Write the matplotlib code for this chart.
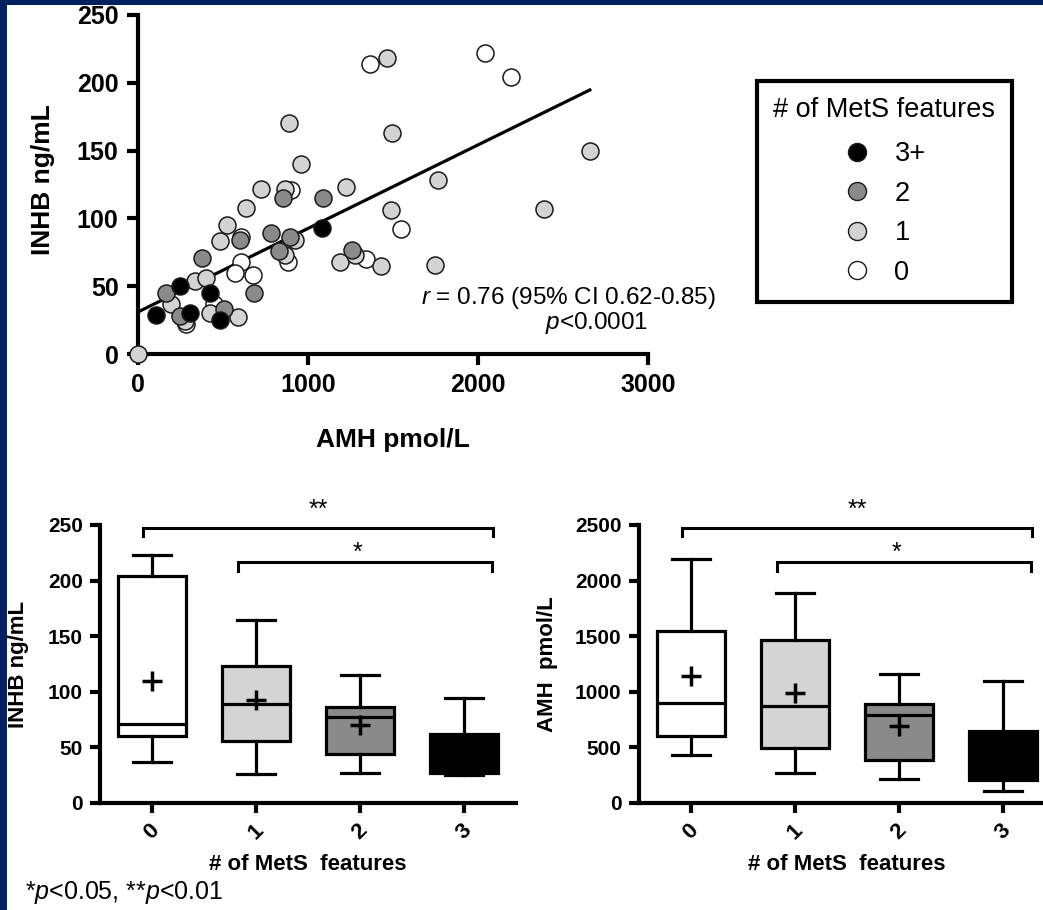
import matplotlib
matplotlib.use("Agg")
import matplotlib.pyplot as plt
import numpy as np
from matplotlib.lines import Line2D
from matplotlib.patches import Rectangle

plt.rcParams['font.family'] = ['Liberation Sans', 'DejaVu Sans']
plt.rcParams['mathtext.fontset'] = 'custom'
plt.rcParams['mathtext.rm'] = 'Liberation Sans'
plt.rcParams['mathtext.it'] = 'Liberation Sans:italic'

# scatter data: AMH (pmol/L) vs INHB (ng/mL), grouped by number of MetS features
amh_3 = [108, 245, 308, 425, 480, 1084]
inhb_3 = [29, 50, 30, 45, 25, 93]

amh_2 = [167, 245, 378, 504, 598, 680, 784, 853, 829, 892, 1088, 1261]
inhb_2 = [45, 28, 71, 33, 84, 45, 89, 115, 76, 86, 115, 77]

amh_1 = [0, 196, 275, 333, 398, 422, 588, 484, 525, 633, 725, 863, 888, 957,
         863, 922, 1225, 1186, 1275, 1427, 1465, 1494, 1490, 1765, 1745, 2658, 2387]
inhb_1 = [0, 37, 24, 54, 56, 30, 27, 83, 95, 108, 122, 122, 170, 140,
          73, 84, 123, 68, 73, 65, 218, 163, 106, 128, 66, 150, 107]

amh_0 = [284, 445, 608, 608, 569, 676, 902, 882, 1343, 1367, 1549, 2039, 2194]
inhb_0 = [22, 37, 86, 68, 60, 58, 121, 68, 70, 214, 92, 222, 204]

# regression line
fit_intercept = 31.0
fit_slope = 0.0616

groups = ['3+', '2', '1', '0']
group_colors = ['#000000', '#8a8a8a', '#d3d3d3', '#ffffff']

# box plot summaries per MetS feature count (0, 1, 2, 3)
mets_cats = [0, 1, 2, 3]
box_colors = ['#ffffff', '#d4d4d4', '#8a8a8a', '#000000']

inhb_whislo = [37, 26, 27, 25]
inhb_q1 = [60, 56, 44, 27]
inhb_med = [71, 89, 77, 45]
inhb_q3 = [204, 123, 86, 62]
inhb_whishi = [223, 165, 115, 94]
inhb_mean = [110, 93, 70, 45]

amh_whislo = [429, 270, 213, 108]
amh_q1 = [603, 495, 384, 210]
amh_med = [900, 870, 789, 420]
amh_q3 = [1549, 1464, 894, 648]
amh_whishi = [2194, 1891, 1164, 1095]
amh_mean = [1140, 990, 690, 430]

W, H = 1043, 910
fig = plt.figure(figsize=(W / 100, H / 100), dpi=100)
fig.patch.set_facecolor('white')


def px_axes(x0, x1, y_top, y_bot):
    return fig.add_axes([x0 / W, 1 - y_bot / H, (x1 - x0) / W, (y_bot - y_top) / H])


def style_axes(ax, lw, tlen, tsize, pad):
    for s in ['top', 'right']:
        ax.spines[s].set_visible(False)
    for s in ['left', 'bottom']:
        ax.spines[s].set_linewidth(lw)
    ax.tick_params(width=lw, length=tlen, labelsize=tsize, pad=pad, direction='out')
    for lab in ax.get_xticklabels() + ax.get_yticklabels():
        lab.set_fontweight('bold')


# ---------------- scatter ----------------
ax = px_axes(138, 648, 15, 354)
order = [3, 2, 1, 0]  # draw white first, black last
xs = [amh_3, amh_2, amh_1, amh_0]
ys = [inhb_3, inhb_2, inhb_1, inhb_0]
for i in order:
    ax.scatter(xs[i], ys[i], s=150, c=group_colors[i], edgecolors='#1a1a1a',
               linewidths=1.1, zorder=3 + (3 - i), clip_on=False)
all_x = np.concatenate([np.array(v, float) for v in xs])
lx = np.array([all_x.min(), all_x.max()])
ax.plot(lx, fit_intercept + fit_slope * lx, color='black', lw=2.3, zorder=2)
ax.set_xlim(0, 3000)
ax.set_ylim(0, 250)
ax.set_xticks([0, 1000, 2000, 3000])
ax.set_yticks([0, 50, 100, 150, 200, 250])
style_axes(ax, 3.0, 8, 18, 6)
ax.set_xlabel('AMH pmol/L', fontsize=19, fontweight='bold')
ax.xaxis.set_label_coords(0.5, -0.254)
ax.xaxis.label.set_va('center')
ax.set_ylabel('INHB ng/mL', fontsize=19, fontweight='bold')
ax.yaxis.set_label_coords(-0.186, 0.513)
ax.yaxis.label.set_va('center')
ax.text(3400, 41, '$r$ = 0.76 (95% CI 0.62-0.85)', fontsize=17.5, ha='right', va='center')
ax.text(3000, 23, '$p$<0.0001', fontsize=17.5, ha='right', va='center')

handles = [Line2D([], [], marker='o', ls='', ms=13, mfc=c, mec='#1a1a1a', mew=1.0)
           for c in group_colors]
leg = ax.legend(handles, groups, title='# of MetS features', loc='upper left',
                bbox_to_anchor=(757 / W, 1 - 81 / H), bbox_transform=fig.transFigure,
                fontsize=19.5, title_fontsize=19.5, frameon=True, fancybox=False,
                edgecolor='black', framealpha=1, borderpad=0.6, labelspacing=0.5,
                handlelength=1.0, handletextpad=0.9, borderaxespad=0)
leg.get_frame().set_linewidth(3.0)
leg._legend_box.sep = 13


# ---------------- box plots ----------------
def boxpanel(ax, lo, q1, med, q3, hi, mean, yticks, ylabel, ylab_x):
    stats = [dict(whislo=lo[i], q1=q1[i], med=med[i], q3=q3[i], whishi=hi[i],
                  mean=mean[i], fliers=[]) for i in range(len(mets_cats))]
    bp = ax.bxp(stats, positions=mets_cats, widths=0.65, capwidths=0.37,
                showmeans=True, showfliers=False, patch_artist=True,
                boxprops=dict(linewidth=2.3, edgecolor='black'),
                whiskerprops=dict(linewidth=2.3, color='black'),
                capprops=dict(linewidth=2.3, color='black'),
                medianprops=dict(linewidth=2.3, color='black'),
                meanprops=dict(marker='+', markersize=14, markeredgecolor='black',
                               markeredgewidth=2.5))
    for patch, c in zip(bp['boxes'], box_colors):
        patch.set_facecolor(c)
    ax.set_xlim(-0.5, 3.5)
    ax.set_ylim(0, yticks[-1])
    ax.set_yticks(yticks)
    ax.set_xticks(mets_cats)
    ax.set_xticklabels([str(c) for c in mets_cats], rotation=45, ha='center')
    style_axes(ax, 3.0, 7.5, 15, 5)
    for lab in ax.get_xticklabels():
        lab.set_fontsize(16)
    ax.set_xlabel('# of MetS  features', fontsize=16, fontweight='bold')
    ax.xaxis.set_label_coords(0.5, -0.223)
    ax.xaxis.label.set_va('center')
    ax.set_ylabel(ylabel, fontsize=16, fontweight='bold')
    ax.yaxis.set_label_coords(ylab_x, 0.5)
    ax.yaxis.label.set_va('center')
    top = yticks[-1]
    # significance brackets
    for x0, x1, yb, ytick, star, xs_ in [(-0.087, 3.28, 0.988, 0.96, '**', 1.6),
                                          (0.83, 3.27, 0.868, 0.836, '*', 1.98)]:
        ax.plot([x0, x0, x1, x1], [ytick * top, yb * top, yb * top, ytick * top],
                color='black', lw=2.2, clip_on=False, solid_joinstyle='miter')
        ax.text(xs_, (yb + (0.065 if star == '**' else 0.03)) * top, star,
                fontsize=18, ha='center', va='center')


ax2 = px_axes(100, 516, 525, 803)
boxpanel(ax2, inhb_whislo, inhb_q1, inhb_med, inhb_q3, inhb_whishi, inhb_mean,
         [0, 50, 100, 150, 200, 250], 'INHB ng/mL', -0.197)

ax3 = px_axes(639, 1055, 525, 803)
boxpanel(ax3, amh_whislo, amh_q1, amh_med, amh_q3, amh_whishi, amh_mean,
         [0, 500, 1000, 1500, 2000, 2500], 'AMH  pmol/L', -0.219)

fig.text(25 / W, 1 - 893 / H, '*$p$<0.05, **$p$<0.01', fontsize=18, ha='left', va='center')

# navy frame strips (left and top)
navy = '#002060'
fig.patches.append(Rectangle((0, 0), 7 / W, 1, transform=fig.transFigure,
                             facecolor=navy, edgecolor='none', zorder=10))
fig.patches.append(Rectangle((0, 1 - 5 / H), 1, 5 / H, transform=fig.transFigure,
                             facecolor=navy, edgecolor='none', zorder=10))

fig.savefig('out.png', dpi=100)
